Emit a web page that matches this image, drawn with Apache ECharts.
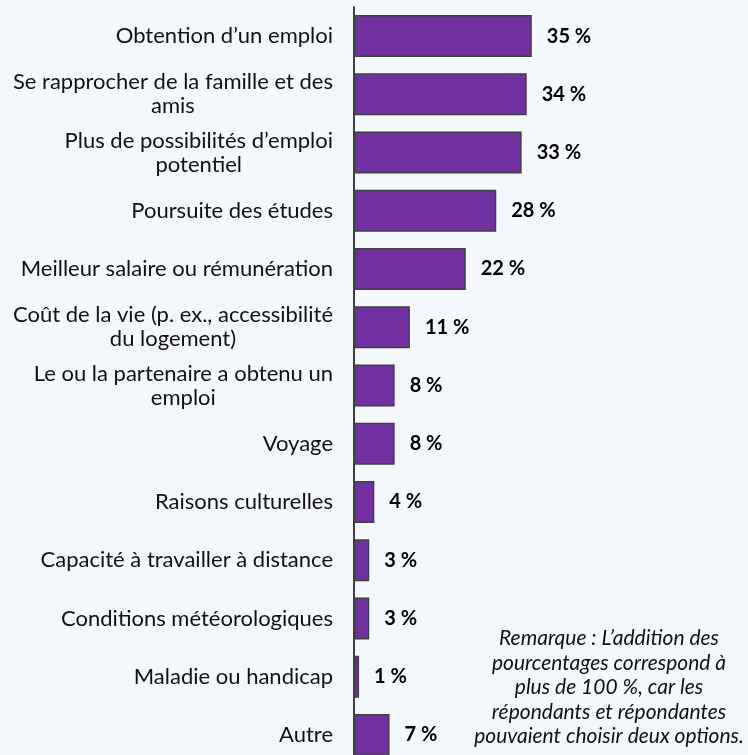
<!DOCTYPE html>
<html>
<head>
<meta charset="utf-8">
<script src="https://cdn.jsdelivr.net/npm/echarts@6/dist/echarts.min.js"></script>
<style>
  html, body { margin: 0; padding: 0; background: #F4F7FC; }
  #chart { width: 748px; height: 755px; }
</style>
</head>
<body>
<div id="chart"></div>
<script>
// raisons du déménagement
var categories = [
    'Obtention d\u2019un emploi',
    'Se rapprocher de la famille et des\namis',
    'Plus de possibilités d\u2019emploi\npotentiel',
    'Poursuite des études',
    'Meilleur salaire ou rémunération',
    'Coût de la vie (p. ex., accessibilité\ndu logement)',
    'Le ou la partenaire a obtenu un\nemploi',
    'Voyage',
    'Raisons culturelles',
    'Capacité à travailler à distance',
    'Conditions météorologiques',
    'Maladie ou handicap',
    'Autre'
];
var values = [35, 34, 33, 28, 22, 11, 8, 8, 4, 3, 3, 1, 7];
var noteLines = [
    'Remarque : L\u2019addition des',
    'pourcentages correspond à',
    'plus de 100 %, car les',
    'répondants et répondantes',
    'pouvaient choisir deux options.'
];

var myChart = echarts.init(document.getElementById('chart'));

var option = {
    backgroundColor: '#F4F7FC',
    animation: false,
    grid: {
        left: 354,
        top: 7,
        height: 757,
        width: 355.6,
        outerBoundsMode: 'none'
    },
    xAxis: {
        type: 'value',
        min: 0,
        max: 70,
        show: false
    },
    yAxis: {
        type: 'category',
        inverse: true,
        data: categories,
        axisLine: { show: true, lineStyle: { color: '#404040', width: 2 } },
        axisTick: { show: false },
        axisLabel: {
            margin: 21,
            align: 'right',
            color: '#111',
            fontFamily: 'Lato',
            fontSize: 22,
            lineHeight: 24,
            formatter: function (v) {
                // chaque ligne centrée dans le bloc
                return v.split('\n').map(function (s) { return '{c|' + s + '}'; }).join('\n');
            },
            rich: {
                c: { align: 'center', fontFamily: 'Lato', fontSize: 22, lineHeight: 24, color: '#111' }
            }
        }
    },
    series: [
        {
            type: 'bar',
            data: values,
            barWidth: 42,
            itemStyle: {
                color: '#7030A0',
                borderColor: '#404040',
                borderWidth: 1.5
            },
            label: {
                show: true,
                position: 'right',
                distance: 15,
                color: '#000',
                fontFamily: 'Lato',
                fontWeight: 'bold',
                fontSize: 20,
                formatter: function (p) { return p.value + ' %'; }
            }
        }
    ],
    graphic: [
        {
            type: 'text',
            x: 609,
            y: 626,
            style: {
                text: noteLines.join('\n'),
                align: 'center',
                verticalAlign: 'top',
                fill: '#111',
                font: 'italic 21px Lato',
                lineHeight: 24.5
            }
        }
    ]
};
myChart.setOption(option);
</script>
</body>
</html>
